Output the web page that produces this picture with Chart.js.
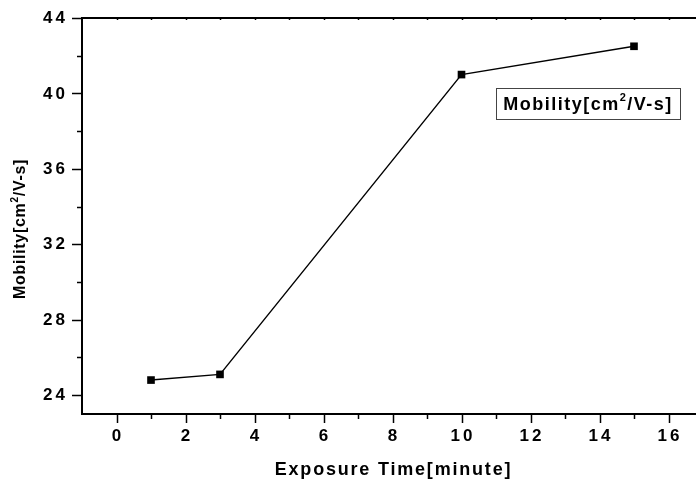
<!DOCTYPE html>
<html>
<head>
<meta charset="utf-8">
<script src="https://cdn.jsdelivr.net/npm/chart.js@4.4.0/dist/chart.umd.min.js"></script>
<style>
  html, body { margin: 0; padding: 0; background: #fff; overflow: hidden; }
  #wrap { width: 712px; height: 483px; }
</style>
</head>
<body>
<div id="wrap"><canvas id="myChart" width="712" height="483"></canvas></div>
<script>
// exposure time (minute) and mobility (cm^2/V-s)
var exposureTime = [1, 3, 10, 15];
var mobility = [24.8, 25.1, 41.0, 42.5];

var xTicks = [0, 2, 4, 6, 8, 10, 12, 14, 16];
var yTicks = [24, 28, 32, 36, 40, 44];

var xTitle = 'Exposure Time[minute]';
var legendLabel = ['Mobility[cm', '2', '/V-s]'];

var BOLD = 'bold {s}px "Liberation Sans", Arial, sans-serif';
function font(size) { return BOLD.replace('{s}', size); }

// draws axis ticks, tick labels, titles and the legend box
var decorPlugin = {
    id: 'decor',
    afterDraw: function(chart) {
        var ctx = chart.ctx;
        var area = chart.chartArea;
        var xs = chart.scales.x;
        var ys = chart.scales.y;
        ctx.save();
        ctx.strokeStyle = '#000';
        ctx.fillStyle = '#000';
        ctx.lineWidth = 2;

        // top frame line
        ctx.beginPath();
        ctx.moveTo(area.left, area.top);
        ctx.lineTo(area.right, area.top);
        ctx.stroke();

        ctx.lineWidth = 1.5;
        // x ticks (major every 2, minor at odd), small inward ticks on top
        for (var v = 0; v <= 17; v++) {
            var px = Math.round(xs.getPixelForValue(v)) + 0.5;
            var len = (v % 2 === 0) ? 9 : 5;
            ctx.beginPath();
            ctx.moveTo(px, area.bottom);
            ctx.lineTo(px, area.bottom + len);
            ctx.stroke();
            ctx.beginPath();
            ctx.moveTo(px, area.top);
            ctx.lineTo(px, area.top + 2);
            ctx.stroke();
        }
        // y ticks (major every 4, minor every 2)
        for (var w = 24; w <= 44; w += 2) {
            var py = Math.round(ys.getPixelForValue(w)) + 0.5;
            var l2 = (w % 4 === 0) ? 10 : 5;
            ctx.beginPath();
            ctx.moveTo(area.left, py);
            ctx.lineTo(area.left - l2, py);
            ctx.stroke();
        }

        // tick labels
        ctx.font = font(17);
        ctx.letterSpacing = '3px';
        ctx.textBaseline = 'middle';
        ctx.textAlign = 'center';
        xTicks.forEach(function(t) {
            ctx.fillText(String(t), xs.getPixelForValue(t) + 1.5, area.bottom + 22);
        });
        ctx.textAlign = 'right';
        yTicks.forEach(function(t) {
            ctx.fillText(String(t), area.left - 14, ys.getPixelForValue(t) + 0.5);
        });

        // x title
        ctx.font = font(18);
        ctx.letterSpacing = '1.8px';
        ctx.textAlign = 'center';
        ctx.fillText(xTitle, (area.left + area.right) / 2 + 1, 470);

        // y title with superscript, rotated
        ctx.save();
        ctx.translate(21, 229);
        ctx.rotate(-Math.PI / 2);
        drawSuper(ctx, 0, 0, 16, 0.7);
        ctx.restore();

        // legend box
        ctx.lineWidth = 1;
        ctx.strokeStyle = '#444';
        ctx.strokeRect(496.5, 88.5, 184, 31);
        drawSuper(ctx, 588, 105, 18, 1.5);

        ctx.restore();
    }
};

function drawSuper(ctx, cx, cy, size, spacing) {
    var small = Math.round(size * 0.62);
    ctx.textAlign = 'left';
    ctx.textBaseline = 'middle';
    ctx.letterSpacing = spacing + 'px';
    ctx.font = font(size);
    var w1 = ctx.measureText(legendLabel[0]).width;
    var w3 = ctx.measureText(legendLabel[2]).width;
    ctx.font = font(small);
    var w2 = ctx.measureText(legendLabel[1]).width;
    var x0 = cx - (w1 + w2 + w3) / 2;
    ctx.font = font(size);
    ctx.fillText(legendLabel[0], x0, cy);
    ctx.font = font(small);
    ctx.fillText(legendLabel[1], x0 + w1, cy - size * 0.38);
    ctx.font = font(size);
    ctx.fillText(legendLabel[2], x0 + w1 + w2, cy);
}

var ctx = document.getElementById('myChart').getContext('2d');
var myChart = new Chart(ctx, {
    type: 'line',
    data: {
        datasets: [{
            label: 'Mobility',
            data: exposureTime.map(function(t, i) { return { x: t, y: mobility[i] }; }),
            borderColor: '#000',
            backgroundColor: '#000',
            borderWidth: 1.4,
            pointStyle: 'rect',
            pointRadius: 5.4,
            pointBorderWidth: 0,
            tension: 0,
            fill: false
        }]
    },
    options: {
        responsive: false,
        animation: false,
        layout: { padding: { top: 18, right: 9, left: 0, bottom: 0 } },
        plugins: { legend: { display: false }, tooltip: { enabled: false } },
        scales: {
            x: {
                type: 'linear',
                min: -1,
                max: 17,
                grid: { display: false },
                border: { display: true, color: '#000', width: 2 },
                ticks: { display: false },
                afterFit: function(scale) { scale.height = 69; }
            },
            y: {
                min: 23,
                max: 44,
                grid: { display: false },
                border: { display: true, color: '#000', width: 2 },
                ticks: { display: false },
                afterFit: function(scale) { scale.width = 82; }
            }
        }
    },
    plugins: [decorPlugin]
});
</script>
</body>
</html>
